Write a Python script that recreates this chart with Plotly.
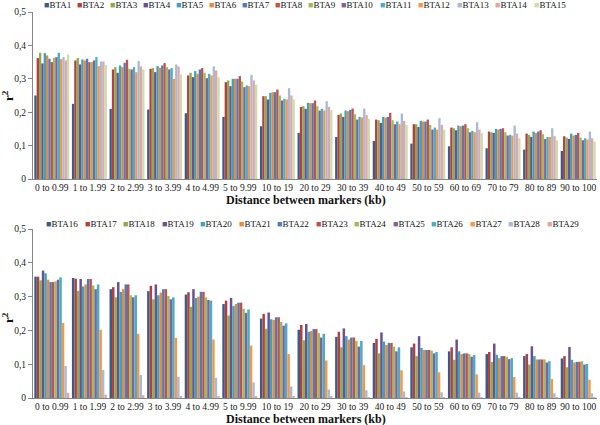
import plotly.graph_objects as go
from plotly.subplots import make_subplots

categories = ["0 to 0.99", "1 to 1.99", "2 to 2.99", "3 to 3.99", "4 to 4.99", "5 to 9.99",
              "10 to 19", "20 to 29", "30 to 39", "40 to 49", "50 to 59", "60 to 69",
              "70 to 79", "80 to 89", "90 to 100"]

# ---- top panel (BTA1 - BTA15) ----
BTA1 = [0.250, 0.225, 0.210, 0.208, 0.197, 0.186, 0.158, 0.138, 0.126, 0.114, 0.106, 0.098, 0.092, 0.088, 0.084]
BTA2 = [0.362, 0.355, 0.328, 0.330, 0.310, 0.290, 0.248, 0.216, 0.192, 0.178, 0.164, 0.154, 0.142, 0.136, 0.128]
BTA3 = [0.378, 0.362, 0.335, 0.332, 0.318, 0.295, 0.248, 0.218, 0.196, 0.176, 0.164, 0.152, 0.140, 0.132, 0.124]
BTA4 = [0.346, 0.343, 0.318, 0.320, 0.305, 0.278, 0.238, 0.210, 0.186, 0.168, 0.156, 0.146, 0.138, 0.126, 0.120]
BTA5 = [0.377, 0.358, 0.340, 0.338, 0.323, 0.300, 0.258, 0.228, 0.205, 0.186, 0.174, 0.160, 0.150, 0.142, 0.136]
BTA6 = [0.370, 0.355, 0.335, 0.333, 0.315, 0.300, 0.260, 0.227, 0.203, 0.184, 0.172, 0.158, 0.148, 0.138, 0.130]
BTA7 = [0.360, 0.360, 0.348, 0.340, 0.328, 0.300, 0.260, 0.227, 0.207, 0.186, 0.172, 0.160, 0.150, 0.142, 0.132]
BTA8 = [0.350, 0.350, 0.357, 0.347, 0.332, 0.308, 0.268, 0.235, 0.211, 0.198, 0.178, 0.164, 0.152, 0.146, 0.138]
BTA9 = [0.363, 0.350, 0.330, 0.335, 0.318, 0.292, 0.250, 0.218, 0.194, 0.176, 0.162, 0.152, 0.140, 0.134, 0.124]
BTA10 = [0.365, 0.355, 0.328, 0.328, 0.302, 0.275, 0.235, 0.205, 0.178, 0.164, 0.148, 0.140, 0.130, 0.120, 0.116]
BTA11 = [0.378, 0.365, 0.335, 0.332, 0.315, 0.280, 0.240, 0.210, 0.186, 0.172, 0.154, 0.144, 0.132, 0.126, 0.122]
BTA12 = [0.359, 0.338, 0.320, 0.300, 0.310, 0.278, 0.238, 0.205, 0.184, 0.164, 0.148, 0.140, 0.130, 0.126, 0.118]
BTA13 = [0.365, 0.352, 0.353, 0.343, 0.337, 0.312, 0.272, 0.233, 0.211, 0.196, 0.182, 0.170, 0.160, 0.152, 0.142]
BTA14 = [0.355, 0.352, 0.337, 0.337, 0.325, 0.295, 0.250, 0.216, 0.192, 0.174, 0.162, 0.148, 0.136, 0.128, 0.122]
BTA15 = [0.373, 0.342, 0.328, 0.313, 0.305, 0.282, 0.238, 0.206, 0.180, 0.162, 0.148, 0.138, 0.122, 0.116, 0.112]

# ---- bottom panel (BTA16 - BTA29) ----
BTA16 = [0.359, 0.355, 0.322, 0.316, 0.306, 0.278, 0.235, 0.202, 0.181, 0.163, 0.150, 0.138, 0.130, 0.124, 0.117]
BTA17 = [0.359, 0.353, 0.328, 0.332, 0.313, 0.288, 0.249, 0.216, 0.196, 0.175, 0.161, 0.150, 0.136, 0.130, 0.124]
BTA18 = [0.348, 0.317, 0.298, 0.292, 0.270, 0.244, 0.205, 0.171, 0.150, 0.132, 0.124, 0.113, 0.107, 0.099, 0.091]
BTA19 = [0.377, 0.352, 0.343, 0.336, 0.322, 0.296, 0.253, 0.219, 0.206, 0.194, 0.183, 0.173, 0.161, 0.153, 0.151]
BTA20 = [0.369, 0.330, 0.314, 0.304, 0.296, 0.272, 0.233, 0.196, 0.183, 0.167, 0.148, 0.138, 0.128, 0.124, 0.113]
BTA21 = [0.350, 0.336, 0.322, 0.312, 0.300, 0.278, 0.231, 0.198, 0.173, 0.157, 0.142, 0.130, 0.118, 0.114, 0.105]
BTA22 = [0.343, 0.352, 0.336, 0.322, 0.314, 0.282, 0.239, 0.204, 0.179, 0.163, 0.142, 0.132, 0.124, 0.114, 0.107]
BTA23 = [0.343, 0.352, 0.336, 0.322, 0.314, 0.282, 0.239, 0.204, 0.179, 0.163, 0.142, 0.132, 0.124, 0.114, 0.107]
BTA24 = [0.345, 0.333, 0.304, 0.302, 0.298, 0.264, 0.225, 0.192, 0.169, 0.152, 0.140, 0.130, 0.122, 0.114, 0.109]
BTA25 = [0.350, 0.322, 0.298, 0.292, 0.290, 0.252, 0.214, 0.179, 0.152, 0.138, 0.132, 0.122, 0.115, 0.105, 0.099]
BTA26 = [0.357, 0.336, 0.304, 0.298, 0.288, 0.262, 0.221, 0.190, 0.169, 0.150, 0.136, 0.127, 0.118, 0.109, 0.101]
BTA27 = [0.222, 0.202, 0.190, 0.178, 0.173, 0.155, 0.130, 0.111, 0.097, 0.082, 0.076, 0.070, 0.062, 0.056, 0.054]
BTA28 = [0.095, 0.083, 0.068, 0.063, 0.060, 0.046, 0.034, 0.025, 0.023, 0.019, 0.017, 0.016, 0.016, 0.014, 0.014]
BTA29 = [0.015, 0.010, 0.008, 0.006, 0.005, 0.005, 0.003, 0.003, 0.002, 0.002, 0.002, 0.002, 0.002, 0.002, 0.002]

top_names = ["BTA1", "BTA2", "BTA3", "BTA4", "BTA5", "BTA6", "BTA7", "BTA8", "BTA9", "BTA10",
             "BTA11", "BTA12", "BTA13", "BTA14", "BTA15"]
top_values = [BTA1, BTA2, BTA3, BTA4, BTA5, BTA6, BTA7, BTA8, BTA9, BTA10, BTA11, BTA12, BTA13, BTA14, BTA15]
bottom_names = ["BTA16", "BTA17", "BTA18", "BTA19", "BTA20", "BTA21", "BTA22", "BTA23", "BTA24",
                "BTA25", "BTA26", "BTA27", "BTA28", "BTA29"]
bottom_values = [BTA16, BTA17, BTA18, BTA19, BTA20, BTA21, BTA22, BTA23, BTA24, BTA25, BTA26, BTA27, BTA28, BTA29]

colors = ["#3C5A8A", "#B0413E", "#8EAA4C", "#6A5190", "#3DA2BC", "#E9893E", "#4A7EBB", "#C4504D",
          "#9DBB5A", "#7F62A1", "#4BACC6", "#F79646", "#A9BAD8", "#DFA7A6", "#CCDCAE"]

FONT = "Liberation Serif, Times New Roman, serif"
W, H = 600, 425
ML, MR, MT, MB = 33, 3, 12, 27
PW, PH = W - ML - MR, H - MT - MB


def py(px):  # pixel row -> paper y
    return (H - MB - px) / PH


def pxx(px):  # pixel column -> paper x
    return (px - ML) / PW


fig = make_subplots(rows=2, cols=1)

for i, (n, v) in enumerate(zip(top_names, top_values)):
    fig.add_trace(go.Bar(x=categories, y=v, name=n, marker=dict(color=colors[i], line=dict(width=0)),
                         showlegend=False), row=1, col=1)
for i, (n, v) in enumerate(zip(bottom_names, bottom_values)):
    fig.add_trace(go.Bar(x=categories, y=v, name=n, marker=dict(color=colors[i], line=dict(width=0)),
                         showlegend=False), row=2, col=1)


def legend_items(names, start_px, row_px):
    """Excel-style legend row: one small colour square + name per series."""
    out = []
    x = start_px
    for i, n in enumerate(names):
        out.append(dict(text="<span style='color:%s'>■</span>%s" % (colors[i], n),
                        xref="paper", yref="paper", x=pxx(x), y=py(row_px),
                        xanchor="left", yanchor="middle", showarrow=False,
                        font=dict(family=FONT, size=9, color="#111")))
        x += 33 + 5.5 * (len(n) - 4)
    return out


axis_common = dict(showline=True, linecolor="#868686", linewidth=1, showgrid=False, zeroline=False,
                   automargin=False, tickfont=dict(family=FONT, size=9.5, color="#1a1a1a"))
xtitle = "<b>Distance between markers (kb)</b>"
ytitle = "<b>r<sup>2</sup></b>"

annotations = legend_items(top_names, 42, 5) + legend_items(bottom_names, 44, 224) + [
    dict(text=xtitle, xref="paper", yref="paper", x=pxx(306), y=py(200), xanchor="center",
         yanchor="middle", showarrow=False, font=dict(family=FONT, size=12, color="#111")),
    dict(text=xtitle, xref="paper", yref="paper", x=pxx(306), y=py(418.5), xanchor="center",
         yanchor="middle", showarrow=False, font=dict(family=FONT, size=12, color="#111")),
    dict(text=ytitle, xref="paper", yref="paper", x=pxx(8), y=py(96), xanchor="center",
         yanchor="middle", textangle=-90, showarrow=False, font=dict(family=FONT, size=13, color="#111")),
    dict(text=ytitle, xref="paper", yref="paper", x=pxx(8), y=py(318), xanchor="center",
         yanchor="middle", textangle=-90, showarrow=False, font=dict(family=FONT, size=13, color="#111")),
]

fig.update_layout(
    width=W, height=H,
    margin=dict(l=ML, r=MR, t=MT, b=MB),
    paper_bgcolor="white", plot_bgcolor="white",
    barmode="group", bargap=0.07, bargroupgap=0,
    separators=", ",
    font=dict(family=FONT, color="#111"),
    xaxis=dict(domain=[0, 1], anchor="y", ticks="", **axis_common),
    yaxis=dict(domain=[py(179), 1.0], anchor="x", range=[0, 0.5], dtick=0.1, ticks="outside", ticklen=4,
               tickcolor="#868686", **axis_common),
    xaxis2=dict(domain=[0, 1], anchor="y2", ticks="", **axis_common),
    yaxis2=dict(domain=[0, py(229)], anchor="x2", range=[0, 0.5], dtick=0.1, ticks="outside", ticklen=4,
                tickcolor="#868686", **axis_common),
    annotations=annotations,
)

fig.write_html("out.html", config={"displayModeBar": False},
               post_script="document.body.style.margin='0';document.body.style.overflow='hidden';")
